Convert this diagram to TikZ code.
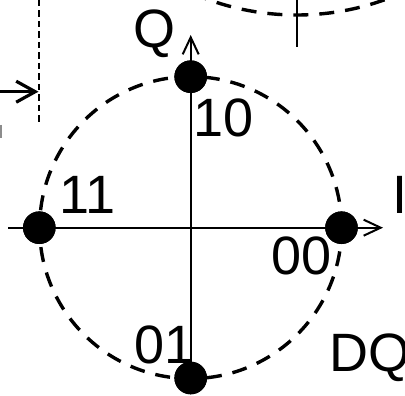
\documentclass[tikz,border=0pt]{standalone}
\usepackage{fontspec}
\setmainfont{Liberation Sans}
\usetikzlibrary{positioning,arrows.meta}
\definecolor{ink}{HTML}{000000}
\definecolor{stub}{HTML}{8C8C8C}
\tikzset{
  sym/.style    = {circle, fill=ink, inner sep=0pt, minimum size=32.6pt},
  axis/.style   = {line width=2pt, draw=ink, -{Straight Barb[length=17pt, width=16pt]}},
  ring/.style   = {line width=3.4pt, draw=ink, dash pattern=on 15pt off 11pt},
  guide/.style  = {line width=1.7pt, draw=ink, dash pattern=on 6.5pt off 4pt},
  feed/.style   = {line width=3.2pt, draw=ink, -{Straight Barb[length=19pt, width=21pt]}},
  lbl/.style    = {font=\fontsize{54}{60}\selectfont, inner sep=0pt, anchor=base west},
}

\begin{document}
\begin{tikzpicture}[x=1pt, y=-1pt]
  \useasboundingbox (0,0) rectangle (405,396);
  \clip (0,0) rectangle (405,396);

  % neighbouring constellation, cut off at the top
  \draw[ring] (296.7,-245) circle[radius=260pt];
  \coordinate (nq0) at (296.7,0);
  \coordinate (nq1) at (296.7,47);
  \draw[line width=2pt] (nq0) -- (nq1);

  % input arrow and marker line on the left
  \coordinate (g0) at (39.3,0);
  \coordinate (g1) at (39.3,122);
  \draw[guide] (g0) -- (g1);
  \coordinate (in) at (0,91.7);
  \coordinate (inend) at (38.5,91.7);
  \draw[feed] (in) -- (inend);
  \coordinate (s0) at (0.8,125);
  \coordinate (s1) at (0.8,138);
  \draw[stub, line width=1.6pt] (s0) -- (s1);

  % QPSK constellation
  \coordinate (o) at (190.6,227.6);
  \draw[ring] (o) circle[radius=151pt];

  \node[sym] (d10) at (190.7,76.7) {};
  \node[sym] (d01) at (190.7,378) {};
  \node[sym] (d11) at (39.3,227.7) {};
  \node[sym] (d00) at (341.5,227.7) {};

  \coordinate (iaxis0) at (8,227.7);
  \coordinate (iaxis1) at (383,227.7);
  \coordinate (qaxis1) at (190.7,35);
  \draw[axis] (iaxis0) -- (iaxis1);
  \draw[axis] (d01.center) -- (qaxis1);
  \fill[ink] (d11) circle[radius=16.3pt];
  \fill[ink] (d00) circle[radius=16.3pt];
  \fill[ink] (d10) circle[radius=16.3pt];
  \fill[ink] (d01) circle[radius=16.3pt];

  \node[lbl] (qlbl) at (133.4,48) {Q};
  \node[lbl] (ilbl) at (392.2,214) {I};
  \node[lbl] (l10) at (193.4,136.7) {10};
  \node[lbl] (l11) at (59.1,213) {11};
  \node[lbl] (l00) at (271,274) {00};
  \node[lbl] (l01) at (134.4,363.3) {01};
  \node[lbl] (dq) at (329,371.5) {DQ};
\end{tikzpicture}
\end{document}
